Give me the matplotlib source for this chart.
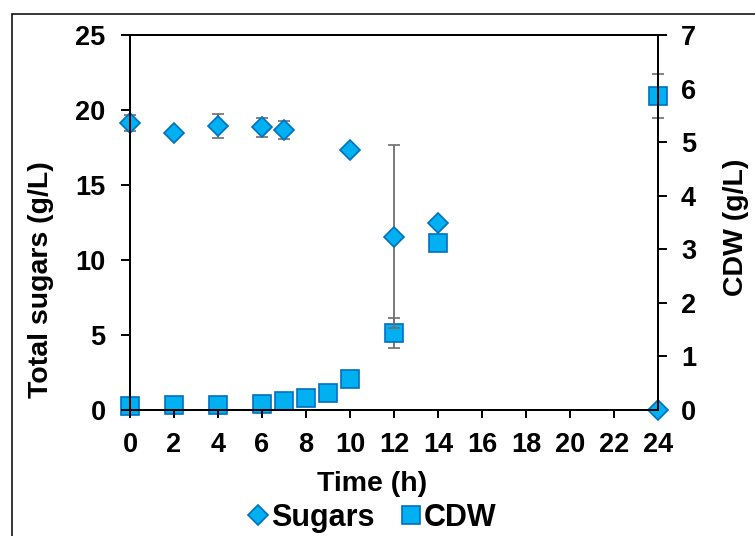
import matplotlib
matplotlib.use("Agg")
import matplotlib.pyplot as plt
from matplotlib.patches import Rectangle
from matplotlib.lines import Line2D

plt.rcParams['font.family'] = ['Liberation Sans', 'DejaVu Sans']
plt.rcParams['font.weight'] = 'bold'

# sampling times (h) and measured values
time_sugar = [0, 2, 4, 6, 7, 10, 12, 14, 24]
sugars = [19.15, 18.45, 18.95, 18.85, 18.65, 17.35, 11.55, 12.5, 0.0]
sugars_err = [0.55, 0.1, 0.8, 0.65, 0.6, 0.2, 6.1, 0.1, 0.0]

time_cdw = [0, 2, 4, 6, 7, 8, 9, 10, 12, 14, 24]
cdw = [0.07, 0.085, 0.085, 0.11, 0.16, 0.22, 0.32, 0.57, 1.44, 3.11, 5.86]
cdw_err = [0.02, 0.02, 0.02, 0.02, 0.02, 0.03, 0.03, 0.05, 0.28, 0.1, 0.41]

x_ticks = list(range(0, 25, 2))
sugar_ticks = [0, 5, 10, 15, 20, 25]
cdw_ticks = [0, 1, 2, 3, 4, 5, 6, 7]

FILL = '#00B0F0'
EDGE = '#0070C0'
ERR = '#6E6E6E'
TICK_FS = 19.5
LABEL_FS = 20.5
LEGEND_FS = 22

W, H = 755, 536
fig = plt.figure(figsize=(W / 100, H / 100), dpi=100)
ax = fig.add_axes([130 / W, 1 - 410 / H, 528 / W, 375 / H])
ax2 = ax.twinx()
ax.set_zorder(ax2.get_zorder() + 1)
ax.patch.set_visible(False)

# outer frame around the chart area
fig.patches.append(Rectangle((12 / W, -0.2), 1.2, 1.2 - 14 / H,
                             transform=fig.transFigure, fill=False,
                             edgecolor='black', linewidth=1.1, zorder=0))

ax2.errorbar(time_cdw, cdw, yerr=cdw_err, fmt='s', ms=13.5, mfc=FILL, mec=EDGE,
             mew=1.2, ecolor=ERR, elinewidth=1.3, capsize=4, capthick=1.3,
             clip_on=False)
ax.errorbar(time_sugar, sugars, yerr=sugars_err, fmt='D', ms=9.8, mfc=FILL,
            mec=EDGE, mew=1.2, ecolor=ERR, elinewidth=1.3, capsize=4,
            capthick=1.3, clip_on=False)

ax.set_xlim(0, 24)
ax.set_ylim(0, 25)
ax2.set_ylim(0, 7)
ax.set_xticks(x_ticks)
ax.set_yticks(sugar_ticks)
ax2.set_yticks(cdw_ticks)

for a in (ax, ax2):
    for s in a.spines.values():
        s.set_linewidth(1.4)
        s.set_color('black')
ax.tick_params(axis='x', direction='out', length=6, width=1.4, pad=10,
               labelsize=TICK_FS)
ax.tick_params(axis='y', direction='out', length=6.5, width=1.4, pad=11,
               labelsize=TICK_FS)
ax2.tick_params(axis='y', direction='out', length=6.5, width=1.4, pad=10,
                labelsize=TICK_FS)
for lab in ax.get_xticklabels() + ax.get_yticklabels() + ax2.get_yticklabels():
    lab.set_fontweight('bold')

fig.text(41 / W, 1 - 280 / H, 'Total sugars (g/L)', rotation=90, ha='center',
         va='center', fontsize=LABEL_FS, fontweight='bold')
fig.text(736 / W, 1 - 227 / H, 'CDW (g/L)', rotation=90, ha='center',
         va='center', fontsize=LABEL_FS, fontweight='bold')
fig.text(372 / W, 1 - 484 / H, 'Time (h)', ha='center', va='center',
         fontsize=LABEL_FS, fontweight='bold')

handles = [
    Line2D([], [], ls='none', marker='D', ms=9.8, mfc=FILL, mec=EDGE, mew=1.2),
    Line2D([], [], ls='none', marker='s', ms=13.5, mfc=FILL, mec=EDGE, mew=1.2),
]
fig.legend(handles, ['Sugars', 'CDW'], loc='center', ncol=2, frameon=False,
           bbox_to_anchor=(373 / W, 1 - 518 / H),
           prop={'weight': 'bold', 'size': LEGEND_FS}, handlelength=0.55,
           handletextpad=0.15, columnspacing=0.9, borderpad=0)

fig.savefig('out.png', dpi=100)
